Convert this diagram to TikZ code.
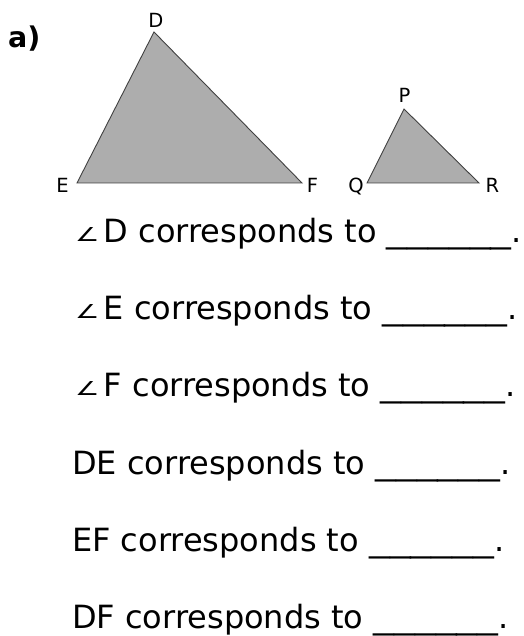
\documentclass[tikz,border=0pt]{standalone}
\usepackage{fontspec}
\setmainfont{DejaVu Sans}
\usepackage{xcolor}
\usetikzlibrary{positioning}
\definecolor{shapefill}{RGB}{173,173,173}
\definecolor{shapeline}{RGB}{64,64,64}
\newcommand\blankline{\scalebox{1.3}[1]{\_\_\_\_\_\_}}
\newcommand\angsign{\rlap{\raisebox{0.5pt}{\scalebox{0.85}[0.6]{∠}}}\phantom{∠}}

\begin{document}
\begin{tikzpicture}[x=1pt, y=-1pt,
    vlabel/.style={anchor=base, inner sep=0pt, font=\fontsize{19.5}{23}\selectfont},
    stmt/.style={anchor=base west, inner sep=0pt, font=\fontsize{32}{38}\selectfont}]
    \useasboundingbox (0,0) rectangle (523,636);
    \node[anchor=base west, inner sep=0pt, font=\fontsize{28.5}{34}\selectfont\bfseries] (part) at (8,48) {a)};
    % big triangle
    \coordinate (D) at (154,32);
    \coordinate (E) at (77,183);
    \coordinate (F) at (302,183);
    \draw[draw=shapeline, fill=shapefill, line width=0.9pt] (D) -- (E) -- (F) -- cycle;
    \node[vlabel] (lD) at (156,28) {D};
    \node[vlabel] (lE) at (62.5,193) {E};
    \node[vlabel] (lF) at (312.5,193) {F};
    % small triangle
    \coordinate (P) at (404,109);
    \coordinate (Q) at (367,183);
    \coordinate (R) at (479,183);
    \draw[draw=shapeline, fill=shapefill, line width=0.9pt] (P) -- (Q) -- (R) -- cycle;
    \node[vlabel] (lP) at (404.5,103) {P};
    \node[vlabel] (lQ) at (356,193) {Q};
    \node[vlabel] (lR) at (492.5,193) {R};
    % questions
    \node[stmt] (qD) at (75,242) {\angsign D corresponds to \blankline.};
    \node[stmt] (qE) at (75,319) {\angsign E corresponds to \blankline.};
    \node[stmt] (qF) at (75,396) {\angsign F corresponds to \blankline.};
    \node[stmt] (qDE) at (72,474) {DE corresponds to \blankline.};
    \node[stmt] (qEF) at (72,551) {EF corresponds to \blankline.};
    \node[stmt] (qDF) at (72,628) {DF corresponds to \blankline.};
\end{tikzpicture}
\end{document}
